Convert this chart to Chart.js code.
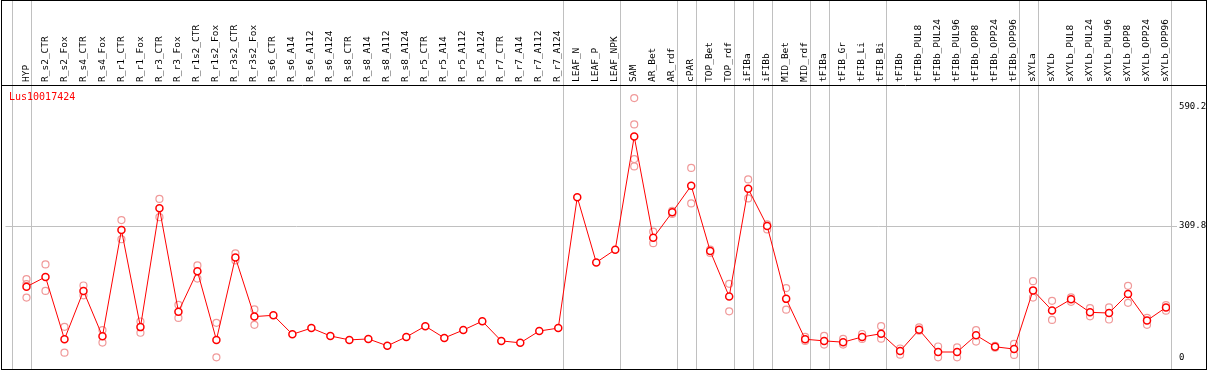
<!DOCTYPE html>
<html>
<head>
<meta charset="utf-8">
<script src="https://cdn.jsdelivr.net/npm/chart.js@4/dist/chart.umd.min.js"></script>
<style>
  html, body { margin: 0; padding: 0; background: #fff; }
  canvas { display: block; }
</style>
</head>
<body>
<canvas id="exprChart" width="1209" height="370"></canvas>
<script>
const geneName = 'Lus10017424';

const categories = [
  'HYP', 'R_s2_CTR', 'R_s2_Fox', 'R_s4_CTR', 'R_s4_Fox', 'R_r1_CTR', 'R_r1_Fox', 'R_r3_CTR', 'R_r3_Fox',
  'R_r1s2_CTR', 'R_r1s2_Fox', 'R_r3s2_CTR', 'R_r3s2_Fox', 'R_s6_CTR', 'R_s6_A14', 'R_s6_A112', 'R_s6_A124',
  'R_s8_CTR', 'R_s8_A14', 'R_s8_A112', 'R_s8_A124', 'R_r5_CTR', 'R_r5_A14', 'R_r5_A112', 'R_r5_A124',
  'R_r7_CTR', 'R_r7_A14', 'R_r7_A112', 'R_r7_A124', 'LEAF_N', 'LEAF_P', 'LEAF_NPK', 'SAM', 'AR_Bet', 'AR_rdf',
  'cPAR', 'TOP_Bet', 'TOP_rdf', 'iFIBa', 'iFIBb', 'MID_Bet', 'MID_rdf', 'tFIBa', 'tFIB_Gr', 'tFIB_Li', 'tFIB_Bi',
  'tFIBb', 'tFIBb_PUL8', 'tFIBb_PUL24', 'tFIBb_PUL96', 'tFIBb_OPP8', 'tFIBb_OPP24', 'tFIBb_OPP96',
  'sXYLa', 'sXYLb', 'sXYLb_PUL8', 'sXYLb_PUL24', 'sXYLb_PUL96', 'sXYLb_OPP8', 'sXYLb_OPP24', 'sXYLb_OPP96'
];

// last category index of each sample group (-1 = before the first one)
const groupEnds = [-1, 0, 28, 31, 34, 35, 37, 38, 39, 41, 42, 45, 52, 53, 60];

// mean expression per sample
const means = [
  166.8, 190.0, 43.3, 156.9, 50.3, 300.5, 71.8, 351.5, 108.2, 203.2,
  41.7, 235.6, 96.6, 99.6, 54.9, 69.5, 51.0, 41.7, 44.0, 27.8,
  48.7, 74.1, 46.3, 64.9, 85.7, 39.4, 34.8, 62.6, 69.5, 377.7,
  224.1, 254.2, 520.6, 282.0, 342.2, 404.8, 250.9, 143.7, 397.8, 309.8,
  138.3, 43.3, 39.4, 36.4, 48.7, 56.3, 15.5, 65.6, 13.2, 13.2,
  52.6, 25.5, 20.2, 158.3, 111.2, 137.4, 106.6, 105.0, 149.9, 87.4, 118.2
];

// single replicates
const rep1 = [
  184.7, 219.4, 72.5, 169.8, 64.9, 323.7, 85.0, 373.7, 124.4, 217.1,
  81.8, 245.6, 113.5, null, null, null, null, null, null, null,
  null, null, null, null, null, null, null, null, null, null,
  null, null, 611.0, 296.6, 345.6, 446.5, 254.2, 173.8, 419.4, 313.5,
  163.8, 48.7, 51.0, 44.0, 55.6, 74.1, 21.5, 71.1, 26.2, 23.9,
  64.9, 27.8, 32.4, 180.0, 133.7, 142.0, 116.5, 118.2, 169.1, 93.4, 123.5
];
const rep2 = [
  141.3, 156.9, 11.6, 146.7, 35.4, 278.7, 58.6, 330.6, 93.4, 186.1,
  0.7, 228.7, 77.2, null, null, null, null, null, null, null,
  null, null, null, null, null, null, null, null, null, null,
  null, null, 549.1, 269.5, 338.3, 363.1, 246.3, 108.9, 374.7, 301.9,
  112.8, 39.4, 30.8, 30.8, 44.0, 44.7, 7.0, 63.3, 0.7, 0.7,
  37.8, 23.2, 6.3, 141.3, 88.7, 131.4, 97.3, 89.7, 129.1, 77.2, 110.5
];
const rep3 = categories.map((c, i) => i === 0 ? 173.1 : (i === 32 ? 467.3 : null));
const rep4 = categories.map((c, i) => i === 32 ? 450.2 : null);

const yTicks = [0, 309.8, 590.2];
const yTickLabels = ['0', '309.8', '590.2'];

const toPoints = arr => arr.map((v, i) => ({ x: i, y: v }));

const framePlugin = {
  id: 'frame',
  beforeDatasetsDraw(chart) {
    const ctx = chart.ctx;
    const xs = chart.scales.x;
    ctx.save();
    ctx.strokeStyle = '#c0c0c0';
    ctx.lineWidth = 1;
    groupEnds.forEach(i => {
      const px = Math.round(xs.getPixelForValue(i) + 4.7) + 0.5;
      ctx.beginPath();
      ctx.moveTo(px, 0);
      ctx.lineTo(px, chart.height);
      ctx.stroke();
    });
    ctx.restore();
  },
  afterDraw(chart) {
    const ctx = chart.ctx;
    const w = chart.width, h = chart.height, top = chart.chartArea.top;
    ctx.save();
    ctx.strokeStyle = '#000';
    ctx.lineWidth = 1;
    ctx.strokeRect(1.5, 0.5, w - 4, h - 1);
    ctx.beginPath();
    ctx.moveTo(1, top + 0.5);
    ctx.lineTo(w - 2, top + 0.5);
    ctx.stroke();
    ctx.fillStyle = '#ff0000';
    ctx.font = '10px "DejaVu Sans Mono"';
    ctx.textBaseline = 'middle';
    ctx.fillText(geneName, 9, top + 12);
    ctx.restore();
  }
};

const repSets = [rep1, rep2, rep3, rep4].map(r => ({
  data: toPoints(r),
  showLine: false,
  pointRadius: 3.5,
  pointBorderWidth: 1.2,
  pointBorderColor: '#f09a9a',
  pointBackgroundColor: 'rgba(0,0,0,0)'
}));

new Chart(document.getElementById('exprChart'), {
  type: 'line',
  data: {
    datasets: [{
      data: toPoints(means),
      borderColor: '#ff0000',
      borderWidth: 1,
      tension: 0,
      pointRadius: 3.5,
      pointBorderWidth: 1.5,
      pointBorderColor: '#ff0000',
      pointBackgroundColor: '#ffffff'
    }, ...repSets]
  },
  options: {
    responsive: false,
    animation: false,
    devicePixelRatio: 1,
    layout: { padding: { left: 2, right: 0, top: 0, bottom: 1 } },
    plugins: { legend: { display: false }, tooltip: { enabled: false } },
    scales: {
      x: {
        type: 'linear',
        position: 'top',
        min: -21 / 19,
        max: 60 + 4 / 19,
        grid: { display: false, drawTicks: false },
        border: { display: false },
        afterBuildTicks: s => { s.ticks = categories.map((c, i) => ({ value: i })); },
        afterFit: s => { s.height = 85; s.paddingLeft = 0; s.paddingRight = 0; },
        ticks: {
          autoSkip: false,
          minRotation: 90,
          maxRotation: 90,
          padding: 3,
          labelOffset: 11,
          color: '#000',
          font: { family: 'DejaVu Sans Mono', size: 9.5 },
          callback: v => categories[v]
        }
      },
      y: {
        position: 'right',
        min: -16.2,
        max: 641.8,
        border: { display: false },
        grid: {
          color: c => (c.tick && c.tick.value === 309.8) ? '#c0c0c0' : 'rgba(0,0,0,0)',
          drawTicks: true,
          tickLength: 7
        },
        afterBuildTicks: s => { s.ticks = yTicks.map(v => ({ value: v })); },
        afterFit: s => { s.width = 39; s.paddingTop = 0; s.paddingBottom = 0; },
        ticks: {
          padding: 2,
          color: '#000',
          font: { family: 'DejaVu Sans Mono', size: 9 },
          callback: (v, i) => yTickLabels[i]
        }
      }
    }
  },
  plugins: [framePlugin]
});
</script>
</body>
</html>
